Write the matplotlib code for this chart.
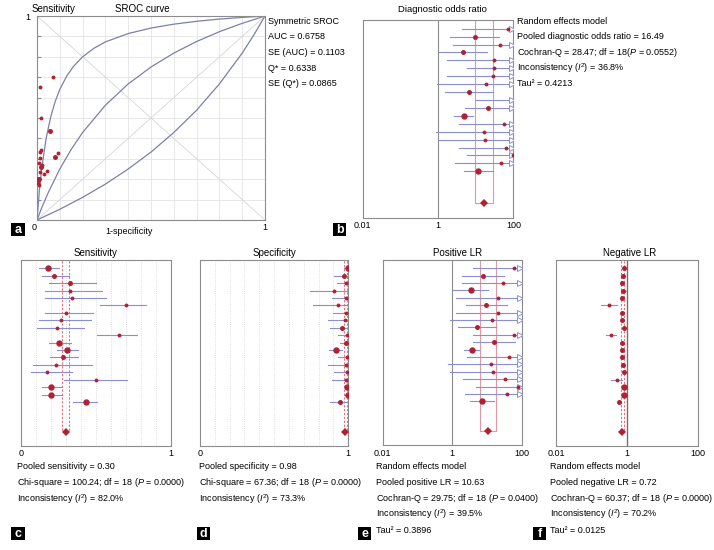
import numpy as np
import matplotlib
matplotlib.use("Agg")
import matplotlib.pyplot as plt
from matplotlib.patches import Rectangle

plt.rcParams['font.family'] = ['Liberation Sans', 'DejaVu Sans']
plt.rcParams['mathtext.fontset'] = 'custom'
plt.rcParams['mathtext.rm'] = 'Liberation Sans'
plt.rcParams['mathtext.it'] = 'Liberation Sans:italic'

# ---- study level data (19 studies) ----
sens = [0.18, 0.224, 0.331, 0.329, 0.344, 0.70, 0.302, 0.271, 0.24, 0.653,
        0.258, 0.311, 0.28, 0.236, 0.173, 0.50, 0.202, 0.202, 0.436]
sens_lo = [0.124, 0.14, 0.19, 0.16, 0.16, 0.53, 0.16, 0.124, 0.11, 0.507,
           0.19, 0.244, 0.196, 0.08, 0.067, 0.289, 0.14, 0.14, 0.351]
sens_hi = [0.257, 0.32, 0.50, 0.54, 0.57, 0.836, 0.48, 0.471, 0.42, 0.776,
           0.333, 0.384, 0.384, 0.473, 0.34, 0.707, 0.278, 0.278, 0.511]

spec = [0.997, 0.971, 0.985, 0.906, 0.982, 0.928, 0.985, 0.978, 0.957, 0.988,
        0.984, 0.92, 0.993, 0.985, 0.99, 0.982, 0.99, 0.996, 0.944]
spec_lo = [0.97, 0.906, 0.921, 0.742, 0.888, 0.764, 0.899, 0.861, 0.876, 0.933,
           0.944, 0.87, 0.933, 0.865, 0.906, 0.892, 0.971, 0.973, 0.876]
spec_hi = [1.0, 0.996, 1.0, 0.989, 1.0, 0.996, 1.0, 1.0, 0.989, 1.0,
           1.0, 0.955, 1.0, 1.0, 1.0, 1.0, 1.0, 1.0, 0.989]

dor = [73.6, 9.6, 44, 4.5, 31, 30, 29.5, 18.8, 6.65, 160,
       20.9, 4.8, 57.7, 16.6, 18, 64, 96, 47, 11.8]
dor_lo = [4.25, 2.08, 2.55, 1.06, 1.77, 6.0, 1.77, 0.96, 1.55, 9.6,
          5.2, 2.72, 3.6, 0.885, 1.02, 3.6, 5.8, 2.8, 5.0]
dor_hi = [300, 42.5, 300, 19.5, 300, 300, 300, 300, 28.2, 300,
          300, 8.67, 300, 300, 300, 300, 300, 300, 28.2]

plr = [60, 7.6, 29.6, 3.4, 20.8, 9.6, 20.8, 14, 5.3, 60,
       15.6, 3.6, 42, 12.8, 14.6, 32.4, 76.7, 37, 7.3]
plr_lo = [3.9, 1.88, 1.88, 1.03, 1.29, 2.5, 1.29, 0.87, 1.5, 4.0,
          4.0, 2.19, 2.7, 0.77, 0.87, 2.0, 4.8, 2.33, 3.25]
plr_hi = [300, 31.6, 300, 10.9, 300, 37, 300, 300, 18.2, 300,
          64, 6.0, 300, 300, 300, 300, 300, 300, 16]

nlr = [0.81, 0.78, 0.70, 0.78, 0.70, 0.315, 0.70, 0.74, 0.79, 0.35,
       0.74, 0.74, 0.70, 0.75, 0.83, 0.51, 0.81, 0.79, 0.60]
nlr_lo = [0.75, 0.72, 0.62, 0.68, 0.62, 0.19, 0.62, 0.66, 0.72, 0.25,
          0.68, 0.68, 0.63, 0.67, 0.75, 0.35, 0.75, 0.73, 0.52]
nlr_hi = [0.88, 0.86, 0.80, 0.90, 0.79, 0.53, 0.79, 0.84, 0.88, 0.50,
          0.80, 0.81, 0.78, 0.85, 0.92, 0.74, 0.87, 0.85, 0.69]

# marker sizes (study weights) per panel
S, M, L = 2.8, 3.6, 4.6
sens_size = [L, M, M, S, S, S, S, S, S, S, L, L, M, S, S, S, L, L, L]
spec_size = [L, M, S, S, S, S, S, S, M, S, M, L, S, S, S, S, L, L, M]
dor_size = [S, M, S, M, S, S, S, S, M, S, M, L, S, S, S, S, S, S, L]
plr_size = [S, M, S, L, S, M, S, S, M, S, M, L, S, S, S, S, S, S, L]
nlr_size = [M, M, M, M, M, S, M, M, M, S, M, M, M, M, M, S, L, L, M]
roc_size = [S, S, S, S, S, S, S, S, S, S, M, M, S, S, S, S, M, M, M]

# pooled estimates (value, low, high)
pooled_sens = (0.30, 0.273, 0.324)
pooled_spec = (0.98, 0.968, 0.99)
pooled_dor = (16.49, 9.6, 28.2)
pooled_plr = (10.63, 6.3, 17.9)
pooled_nlr = (0.72, 0.66, 0.79)

# SROC curves (1-specificity, sensitivity)
curve_up_x = [0, 0.01, 0.02, 0.04, 0.06, 0.08, 0.1, 0.13, 0.16, 0.2, 0.25, 0.3,
              0.4, 0.5, 0.6, 0.7, 0.8, 0.9, 1.0]
curve_up_y = [0, 0.139, 0.246, 0.40, 0.505, 0.582, 0.64, 0.705, 0.753, 0.80, 0.842,
              0.873, 0.914, 0.941, 0.96, 0.974, 0.985, 0.993, 1.0]
curve_mid_x = [0, 0.02, 0.05, 0.1, 0.15, 0.2, 0.3, 0.4, 0.5, 0.6, 0.7, 0.8, 0.9, 1.0]
curve_mid_y = [0, 0.058, 0.136, 0.25, 0.346, 0.429, 0.5625, 0.667, 0.75, 0.818,
               0.875, 0.923, 0.964, 1.0]
curve_low_x = [0, 0.1, 0.2, 0.3, 0.4, 0.5, 0.6, 0.7, 0.8, 0.9, 0.95, 1.0]
curve_low_y = [0, 0.0526, 0.111, 0.176, 0.25, 0.333, 0.429, 0.538, 0.667, 0.818,
               0.905, 1.0]

W, H = 714, 550
DOT = '#b02232'
CI = '#8a8fd0'
POOL = '#e07080'
FS = 6.5

fig = plt.figure(figsize=(W / 100, H / 100), dpi=100)


def rect(x0, y0, x1, y1):
    return [x0 / W, 1 - y1 / H, (x1 - x0) / W, (y1 - y0) / H]


def txt(x, y, s, **kw):
    kw.setdefault('fontsize', FS)
    kw.setdefault('va', 'center')
    fig.text(x / W, 1 - y / H, s, **kw)


def tag(x, y, s):
    # black square 13x13 px with a white letter
    fig.patches.append(Rectangle(((x - 6.5) / W, 1 - (y + 6.5) / H), 13 / W, 13 / H,
                                 transform=fig.transFigure, fc='black', ec='none'))
    fig.text(x / W, 1 - (y + 0.5) / H, s, color='white', fontsize=9,
             fontweight='bold', ha='center', va='center')


def frame(ax):
    for sp in ax.spines.values():
        sp.set_color('#8c8c8c')
        sp.set_linewidth(0.8)
    ax.set_xticks([])
    ax.set_yticks([])


def forest(ax, est, lo, hi, size, pooled, log=False, ushape=False):
    n = len(est)
    xmax = 100 if log else 1
    for i in range(n):
        ax.plot([lo[i], min(hi[i], xmax)], [i, i], color=CI, lw=0.8, zorder=2)
        if hi[i] > xmax:
            ax.plot(10 ** 1.96, i, marker='>', mfc='white', mec=CI, ms=4,
                    mew=0.7, zorder=3)
        ax.plot(est[i], i, 'o', color=DOT, ms=size[i], mew=0, zorder=4)
    pr = n + 3
    if ushape:
        ax.plot([pooled[1], pooled[1], pooled[2], pooled[2]], [-2, pr, pr, -2],
                color='#dc9aa6', lw=0.8, zorder=1)
    else:
        for v in pooled[1:]:
            ax.plot([v, v], [-2, pr], color=POOL, lw=0.8, ls=(0, (2, 1.5)), zorder=1)
    ax.plot(pooled[0], pr, 'D', color=DOT, ms=4, mew=0, zorder=4)
    if log:
        ax.set_xscale('log')
        ax.set_xlim(0.01, 100)
        ax.axvline(1, color='#8c8c8c', lw=0.8, zorder=1)
    else:
        ax.set_xlim(0, 1)
        for g in np.arange(0.1, 1.0, 0.1):
            ax.axvline(g, color='#d4d4d4', lw=0.6, ls=':', zorder=0)
    ax.set_ylim(23.9, -1.1)
    frame(ax)
    ax.minorticks_off()
    ax.tick_params(which='both', length=0)


# ---- panel a: SROC ----
axa = fig.add_axes(rect(37, 16, 265, 220))
for g in np.arange(0.1, 1.0, 0.1):
    axa.axvline(g, color='#e4e4e4', lw=0.6, zorder=0)
    axa.axhline(g, color='#e4e4e4', lw=0.6, zorder=0)
axa.plot([0, 1], [1, 0], color='#d6d6d6', lw=0.6, zorder=1)
axa.plot([0, 1], [0, 1], color='#d6d6d6', lw=0.6, zorder=1)
for cx, cy in [(curve_up_x, curve_up_y), (curve_mid_x, curve_mid_y),
               (curve_low_x, curve_low_y)]:
    axa.plot(cx, cy, color='#7c80a8', lw=0.9, zorder=2)
fpr = [1 - s for s in spec]
for i in range(len(sens)):
    axa.plot(fpr[i], sens[i], 'o', color=DOT, ms=roc_size[i], mew=0, zorder=3)
axa.set_xlim(0, 1)
axa.set_ylim(0, 1)
frame(axa)
axa.set_yticks(np.arange(0.1, 1.0, 0.1))
axa.set_yticklabels([])
axa.tick_params(axis='y', length=3, direction='in', color='#8c8c8c')

txt(53, 9, 'Sensitivity', fontsize=7, ha='center')
txt(142, 9, 'SROC curve', fontsize=7, ha='center')
txt(28, 18, '1', ha='center')
txt(34, 227, '0', ha='center')
txt(265, 227, '1', ha='center')
txt(129, 232, '1-specificity', ha='center')
for k, s in enumerate(['Symmetric SROC', 'AUC = 0.6758', 'SE (AUC) = 0.1103',
                       'Q* = 0.6338', 'SE (Q*) = 0.0865']):
    txt(268, 21 + 15.7 * k, s)
tag(18, 229.5, 'a')

# ---- panel b: DOR ----
axb = fig.add_axes(rect(362.7, 20, 513.3, 218))
forest(axb, dor, dor_lo, dor_hi, dor_size, pooled_dor, log=True, ushape=True)
txt(442, 10, 'Diagnostic odds ratio', fontsize=6.8, ha='center')
txt(362.7, 226, '0.01', ha='center')
txt(438, 226, '1', ha='center')
txt(514, 226, '100', ha='center')
for k, s in enumerate(['Random effects model', 'Pooled diagnostic odds ratio = 16.49',
                       'Cochran-Q = 28.47; df = 18($P$ = 0.0552)',
                       'Inconsistency ($I^2$) = 36.8%', 'Tau\u00b2 = 0.4213']):
    txt(517, 21 + 15.6 * k, s)
tag(339.5, 229.5, 'b')

# ---- panel c: sensitivity ----
axc = fig.add_axes(rect(20.7, 260, 170.7, 446))
forest(axc, sens, sens_lo, sens_hi, sens_size, pooled_sens)
txt(95.7, 253, 'Sensitivity', fontsize=7, ha='center')
txt(20.7, 453, '0', ha='center')
txt(170.7, 453, '1', ha='center')
for k, s in enumerate(['Pooled sensitivity = 0.30',
                       'Chi-square = 100.24; df = 18 ($P$ = 0.0000)',
                       'Inconsistency ($I^2$) = 82.0%']):
    txt(17.3, 466.7 + 16.2 * k, s)
tag(18, 533.5, 'c')

# ---- panel d: specificity ----
axd = fig.add_axes(rect(200, 260, 348.3, 446))
forest(axd, spec, spec_lo, spec_hi, spec_size, pooled_spec)
txt(274, 253, 'Specificity', fontsize=7, ha='center')
txt(200, 453, '0', ha='center')
txt(348.3, 453, '1', ha='center')
for k, s in enumerate(['Pooled specificity = 0.98',
                       'Chi-square = 67.36; df = 18 ($P$ = 0.0000)',
                       'Inconsistency ($I^2$) = 73.3%']):
    txt(199, 466.7 + 16.2 * k, s)
tag(203.5, 533.5, 'd')

# ---- panel e: positive LR ----
axe = fig.add_axes(rect(382.7, 260, 521.7, 445))
forest(axe, plr, plr_lo, plr_hi, plr_size, pooled_plr, log=True, ushape=True)
txt(458, 253, 'Positive LR', fontsize=7, ha='center')
txt(382.7, 453, '0.01', ha='center')
txt(452.3, 453, '1', ha='center')
txt(521.7, 453, '100', ha='center')
for k, s in enumerate(['Random effects model', 'Pooled positive LR = 10.63',
                       'Cochran-Q = 29.75; df = 18 ($P$ = 0.0400)',
                       'Inconsistency ($I^2$) = 39.5%', 'Tau\u00b2 = 0.3896']):
    txt(376, 466.7 + 15.9 * k, s)
tag(364.5, 533.5, 'e')

# ---- panel f: negative LR ----
axf = fig.add_axes(rect(556, 260, 698.3, 446))
forest(axf, nlr, nlr_lo, nlr_hi, nlr_size, pooled_nlr, log=True)
axf.axvline(1, color='#6e6e6e', lw=0.9, zorder=1)
txt(630, 253, 'Negative LR', fontsize=7, ha='center')
txt(556, 453, '0.01', ha='center')
txt(627.3, 453, '1', ha='center')
txt(698.3, 453, '100', ha='center')
for k, s in enumerate(['Random effects model', 'Pooled negative LR = 0.72',
                       'Cochran-Q = 60.37; df = 18 ($P$ = 0.0000)',
                       'Inconsistency ($I^2$) = 70.2%', 'Tau\u00b2 = 0.0125']):
    txt(550, 466.7 + 15.9 * k, s)
tag(539.5, 533.5, 'f')

fig.savefig('out.png', dpi=100)
